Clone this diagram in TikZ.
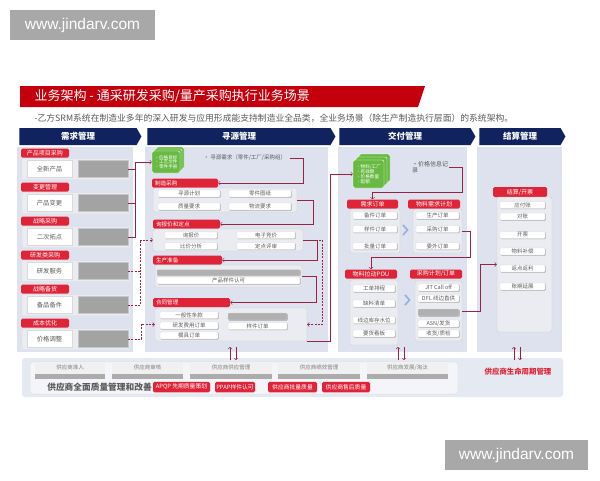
\documentclass[tikz,border=0pt]{standalone}
\usepackage{fontspec}
\setmainfont{Noto Sans CJK SC}
\newfontfamily\wmfont{Liberation Sans}
\usetikzlibrary{shapes.symbols,shadows,positioning}

\definecolor{navy}{RGB}{17,35,94}
\definecolor{titred}{RGB}{196,0,12}
\definecolor{tabred}{RGB}{224,36,56}
\definecolor{colbg}{RGB}{221,226,238}
\definecolor{bandbg}{RGB}{229,233,241}
\definecolor{grpbg}{RGB}{234,236,242}
\definecolor{linkred}{RGB}{150,34,68}
\definecolor{docgreen}{RGB}{104,186,66}
\definecolor{wmgray}{RGB}{168,168,168}
\definecolor{txtgray}{RGB}{90,90,90}
\definecolor{chevblue}{RGB}{150,175,220}

\newcommand\fsz[1]{\fontsize{#1}{#1}\selectfont}

\tikzset{
  hdr/.style={signal, signal to=east, signal pointer angle=120, fill=navy, text=white,
    minimum height=17, inner sep=0pt, font=\fsz{8.5}\bfseries},
  colbox/.style={fill=colbg, minimum height=205, inner sep=0pt},
  tab/.style={fill=tabred, text=white, rounded corners=1.5, minimum height=9, inner sep=0pt, font=\fsz{6}},
  ltab/.style={tab, align=left, text width=#1, inner xsep=3pt, font=\fsz{5.6}},
  band/.style={fill=grpbg, draw=gray!25, line width=0.3, rounded corners=1, minimum width=108, minimum height=21},
  wbox/.style={fill=white, draw=gray!30, line width=0.3, minimum width=45, minimum height=17, inner sep=0pt,
    font=\fsz{6.3}, text=txtgray, drop shadow={shadow xshift=0.8pt, shadow yshift=-0.8pt, fill=gray!70, opacity=1}},
  gbox/.style={fill=gray!72, draw=gray!45, line width=0.3, minimum width=50, minimum height=17},
  grp/.style={fill=grpbg, draw=gray!40, line width=0.3, rounded corners=2, inner sep=0pt},
  pill/.style={fill=white, draw=gray!30, line width=0.3, rounded corners=0.8, minimum height=7, inner sep=0pt,
    font=\fsz{5.5}, text=txtgray, drop shadow={shadow xshift=0.6pt, shadow yshift=-0.6pt, fill=gray!75, opacity=1}},
  dpill/.style={pill, fill=gray!62},
  doc/.style={fill=docgreen, draw=white, line width=0.4, rounded corners=1.5, text=white, font=\fsz{4.6},
    align=left, inner sep=1pt},
  link/.style={draw=linkred, line width=0.6},
  dlink/.style={link, dash pattern=on 2pt off 1.2pt},
  rbtn/.style={fill=tabred, text=white, rounded corners=1.5, minimum height=10.5, inner sep=0pt, font=\fsz{5.8}},
  lc/.style={fill=gray!12, minimum height=16, text height=4, text depth=7, inner sep=0pt, font=\fsz{5.5}, text=gray,
    path picture={\fill[gray!65] (path picture bounding box.south west) rectangle ([yshift=5.5pt]path picture bounding box.south east);}},
  wm/.style={fill=wmgray, text=white, font=\wmfont\fsz{15.5}, inner sep=0pt, minimum height=30}
}

\begin{document}
\begin{tikzpicture}[x=1pt,y=-1pt]
\useasboundingbox (0,0) rectangle (600,480);
\fill[white] (0,0) rectangle (600,480);

\node[wm, minimum width=145] (wmtop) at (82.5,25) {www.jindarv.com};
\node[wm, minimum width=143] (wmbot) at (516.5,455) {www.jindarv.com};

\fill[titred] (20,86) -- (425,86) -- (418,107) -- (20,107) -- cycle;
\node[anchor=west, text=white, font=\fsz{13}] (title) at (31,96.5) {业务架构 - 通采研发采购/量产采购执行业务场景};
\node[anchor=west, text=txtgray, font=\fsz{8.8}] (subtitle) at (31,118.5)
  {-乙方SRM系统在制造业多年的深入研发与应用形成能支持制造业全品类，全业务场景（除生产制造执行层面）的系统架构。};

% columns
\node[colbox, minimum width=116] (col1) at (75,249.5) {};
\node[colbox, minimum width=183] (col2) at (236.5,249.5) {};
\node[colbox, minimum width=129] (col3) at (402.5,249.5) {};
\node[colbox, minimum width=85] (col4) at (519.5,249.5) {};
\node[hdr, minimum width=122] (h1) at (78,136.5) {需求管理};
\node[hdr, minimum width=188] (h2) at (239,136.5) {寻源管理};
\node[hdr, minimum width=136] (h3) at (405,136.5) {交付管理};
\node[hdr, minimum width=86] (h4) at (520,136.5) {结算管理};

% need management
\node[tab, minimum width=48] (c1t1) at (45,153) {产品项目采购};
\node[band] (band1) at (76,169) {};
\node[wbox] (wb1) at (49.5,169) {全新产品};
\node[gbox] (gb1) at (103,169) {};
\node[tab, minimum width=48] (c1t2) at (45,187) {变更管理};
\node[band] (band2) at (76,203) {};
\node[wbox] (wb2) at (49.5,203) {产品变更};
\node[gbox] (gb2) at (103,203) {};
\node[tab, minimum width=48] (c1t3) at (45,221) {战略采购};
\node[band] (band3) at (76,237) {};
\node[wbox] (wb3) at (49.5,237) {二次拓点};
\node[gbox] (gb3) at (103,237) {};
\node[tab, minimum width=48] (c1t4) at (45,255) {研发类采购};
\node[band] (band4) at (76,271) {};
\node[wbox] (wb4) at (49.5,271) {研发服务};
\node[gbox] (gb4) at (103,271) {};
\node[tab, minimum width=48] (c1t5) at (45,289) {战略备货};
\node[band] (band5) at (76,305) {};
\node[wbox] (wb5) at (49.5,305) {备品备件};
\node[gbox] (gb5) at (103,305) {};
\node[tab, minimum width=48] (c1t6) at (45,323) {成本优化};
\node[band] (band6) at (76,339) {};
\node[wbox] (wb6) at (49.5,339) {价格调整};
\node[gbox] (gb6) at (103,339) {};

% sourcing
\node[doc, minimum width=28, minimum height=22] (s2c) at (170,158) {};
\node[doc, minimum width=28, minimum height=22] (s2b) at (168,160) {};
\node[doc, minimum width=28, minimum height=22] (stack2) at (166,162) {•价格目标\\•工艺文件\\•零件手册};
\node[anchor=west, font=\fsz{5.5}, text=txtgray] (req) at (200,158) {• 寻源需求（零件/工厂/采购组）};

\node[ltab=60] (tab2a) at (185,183) {制造采购};
\node[grp, minimum width=144, minimum height=24] (g21) at (225,200) {};
\node[pill, minimum width=62] (p211) at (189,193.5) {寻源计划};
\node[pill, minimum width=62] (p212) at (260,193.5) {零件图纸};
\node[pill, minimum width=62] (p213) at (189,206.5) {质量要求};
\node[pill, minimum width=62] (p214) at (260,206.5) {物流要求};

\node[ltab=61] (tab2b) at (186.5,224) {询报价和定点};
\node[grp, minimum width=150, minimum height=22] (g22) at (228,240) {};
\node[pill, minimum width=52] (p221) at (191,235) {询报价};
\node[pill, minimum width=58] (p222) at (266,235) {电子竞价};
\node[pill, minimum width=52] (p223) at (191,246) {比价分析};
\node[pill, minimum width=58] (p224) at (266,246) {定点评审};

\node[ltab=63] (tab2c) at (187.5,260) {生产准备};
\node[grp, minimum width=147, minimum height=22] (g23) at (228.5,276) {};
\node[dpill, minimum width=143, minimum height=6] (p231) at (228.5,272.5) {};
\node[pill, minimum width=143] (p232) at (228.5,280.5) {产品样件认可};

\node[ltab=71] (tab2d) at (191.5,302.5) {合同管理};
\node[grp, minimum width=152, minimum height=33] (g24) at (231,324.5) {};
\node[pill, minimum width=58] (p241) at (189,315) {一般性条款};
\node[pill, minimum width=58] (p242) at (189,325.5) {研发费用订单};
\node[pill, minimum width=58] (p243) at (189,335.5) {模具订单};
\node[dpill, minimum width=59] (p244) at (257.5,316.5) {};
\node[pill, minimum width=59] (p245) at (257.5,326) {样件订单};

% delivery
\node[doc, minimum width=31, minimum height=28] (s3c) at (374.5,168) {};
\node[doc, minimum width=31, minimum height=28] (s3b) at (371.5,171) {};
\node[doc, minimum width=31, minimum height=28] (stack3) at (368.5,174) {•物料/工厂\\•有效期\\•价格数量\\•配额};
\node[anchor=north west, align=left, font=\fsz{6}, text=txtgray, inner sep=1pt] (pinfo) at (411,160) {•价格信息记\\录};

\node[tab, minimum width=51] (tab3a) at (372.5,204) {需求订单};
\node[tab, minimum width=52] (tab3b) at (434,204) {物料需求计划};
\node[grp, minimum width=50, minimum height=44] (g31) at (375,231) {};
\node[pill, minimum width=44] (p311) at (375,215.5) {备件订单};
\node[pill, minimum width=44] (p312) at (375,229) {样件订单};
\node[pill, minimum width=44] (p313) at (375,246) {批量订单};
\node[grp, minimum width=49, minimum height=44] (g32) at (437.5,231) {};
\node[pill, minimum width=43] (p321) at (437.5,215.5) {生产订单};
\node[pill, minimum width=43] (p322) at (437.5,229) {采购订单};
\node[pill, minimum width=43] (p323) at (437.5,246) {委外订单};
\draw[chevblue, line width=1.6] (403,225) -- (407.5,230) -- (403,235);

\node[tab, minimum width=52] (tab3c) at (371,274) {物料拉动POU};
\node[tab, minimum width=52] (tab3d) at (436,274) {采购计划/订单};
\node[grp, minimum width=48, minimum height=65] (g33) at (374,312.5) {};
\node[pill, minimum width=42] (p331) at (374,288.5) {工单排程};
\node[pill, minimum width=42] (p332) at (374,303.5) {缺料清单};
\node[pill, minimum width=42] (p333) at (374,320) {线边库存水位};
\node[pill, minimum width=42] (p334) at (374,333.5) {要货看板};
\node[grp, minimum width=47, minimum height=60] (g34) at (438.5,311) {};
\node[pill, minimum width=41] (p341) at (438.5,287.5) {JIT Call off};
\node[pill, minimum width=41] (p342) at (438.5,298.5) {DFL 线边直供};
\node[dpill, minimum width=41] (p343) at (438.5,312.5) {};
\node[pill, minimum width=41] (p344) at (438.5,323.5) {ASN/发货};
\node[pill, minimum width=41] (p345) at (438.5,333.5) {收货/质检};
\draw[chevblue, line width=1.6] (405,295) -- (409.5,300) -- (405,305);

% settlement
\node[tab, minimum width=54, minimum height=10] (tab41) at (520,192) {结算/开票};
\node[grp, minimum width=55, minimum height=135] (g41) at (524.5,264.5) {};
\node[pill, minimum width=45] (p411) at (522.5,205) {应付账};
\node[pill, minimum width=45] (p412) at (522.5,216.5) {对账};
\node[pill, minimum width=45] (p413) at (522.5,235) {开票};
\node[pill, minimum width=45] (p414) at (522.5,251.5) {物料补偿};
\node[pill, minimum width=45] (p415) at (522.5,268.5) {返点返利};
\node[pill, minimum width=45] (p416) at (522.5,286.5) {账期延展};

% supplier lifecycle
\node[fill=bandbg, rounded corners=3, minimum width=541, minimum height=39] (band) at (292.5,377.5) {};
\node[fill=white!55!bandbg, draw=gray!30, line width=0.3, rounded corners=3, minimum width=428, minimum height=32] (qbox) at (244,378) {};
\node[lc, minimum width=70] (lc1) at (70,371) {供应商准入};
\node[lc, minimum width=71] (lc2) at (147.5,371) {供应商审核};
\node[lc, minimum width=82] (lc3) at (231,371) {供应商供应管理};
\node[lc, minimum width=82] (lc4) at (319,371) {供应商绩效管理};
\node[lc, minimum width=81] (lc5) at (407.5,371) {供应商发展/淘汰};
\node[font=\fsz{8.7}\bfseries, text=txtgray] (qm) at (99.5,387.5) {供应商全面质量管理和改善};
\node[rbtn, minimum width=57] (rb1) at (181.5,387) {APQP 先期质量策划};
\node[rbtn, minimum width=40] (rb2) at (235,387) {PPAP样件认可};
\node[rbtn, minimum width=49] (rb3) at (292.5,387) {供应商批量质量};
\node[rbtn, minimum width=48] (rb4) at (346,387) {供应商售后质量};
\node[font=\fsz{7.4}\bfseries, text=tabred] (life) at (518,372) {供应商生命周期管理};

% connectors
\coordinate (j1) at (135,162);
\coordinate (j2) at (140,240);
\coordinate (j3) at (141,324.5);
\draw[link] (gb1.east) -- (gb1.east -| j1);
\draw[link] (gb2.east) -- (gb2.east -| j1);
\draw[link,->] (gb3.east) -| (j1) -- (stack2.west);
\draw[dlink] (gb4.east) -- (gb4.east -| j2);
\draw[dlink,->] (gb5.east) -| (j2) -- (g22.west);
\draw[dlink,->] (gb6.east) -| (j3) -- (g24.west);

\coordinate (k1) at (303,183);
\coordinate (k2) at (313,224);
\coordinate (k3) at (317,260);
\coordinate (k4) at (316,302.5);
\coordinate (k6) at (322,324.5);
\coordinate (k7) at (330,174);
\draw[link,->] (req.east) -| (k1) -- (tab2a.east);
\draw[link,->] (g21.east) -| (k2) -- (tab2b.east);
\draw[link,->] (g22.east) -| (k3) -- (tab2c.east);
\draw[link,->] (g23.east) -| (k4) -- (tab2d.east);
\draw[dlink,->] (g22.east) -| (k6) -- (g24.east);
\draw[link,->] (g24.south east) -| (k7) -- (stack3.west);

\coordinate (k8) at (462,192);
\coordinate (k9) at (372.5,192);
\coordinate (k10) at (470,257);
\coordinate (k11) at (371,257);
\coordinate (k12) at (480,264.5);
\draw[link,->] (pinfo.east) -| (k8) -- (k9) -- (tab3a.north);
\draw[link,->] (g32.east) -| (k10) -- (k11) -- (tab3c.north);
\draw[link,->] (g34.east) -| (k12) -- (g41.west);

\coordinate (ua1) at (230,360);
\coordinate (ua2) at (230,347);
\coordinate (da1) at (236,347);
\coordinate (da2) at (236,360);
\coordinate (ub1) at (398,360);
\coordinate (ub2) at (398,347);
\coordinate (db1) at (404,347);
\coordinate (db2) at (404,360);
\coordinate (uc1) at (514,360);
\coordinate (uc2) at (514,347);
\coordinate (dc1) at (520,347);
\coordinate (dc2) at (520,360);
\draw[link,->] (ua1) -- (ua2);
\draw[link,->] (da1) -- (da2);
\draw[link,->] (ub1) -- (ub2);
\draw[link,->] (db1) -- (db2);
\draw[link,->] (uc1) -- (uc2);
\draw[link,->] (dc1) -- (dc2);
\end{tikzpicture}
\end{document}
